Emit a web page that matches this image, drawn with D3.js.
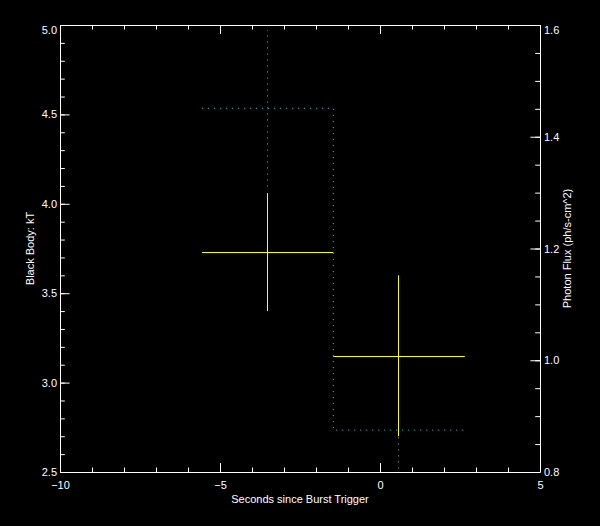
<!DOCTYPE html>
<html lang="en">

<head>
	<meta charset="utf-8">
	<title>Burst spectral fit</title>
	<style>
		body {
			margin: 0;
			background: #000;
		}

		svg {
			display: block;
			background: #000;
			font-family: "Liberation Sans", sans-serif;
		}

		.axis path,
		.axis line {
			stroke: #fff;
		}

		.axis text {
			fill: #fff;
			font-size: 11px;
		}

		.title {
			fill: #fff;
			font-size: 11px;
		}
	</style>
</head>

<body>
	<svg></svg>

	<script src="https://d3js.org/d3.v7.min.js"></script>
	<script>
		// time bins (seconds since trigger)
		var binStart = [-5.56, -1.46];
		var binEnd = [-1.46, 2.65];
		var binMid = [-3.52, 0.57];

		// black body kT with error range
		var kT = [3.73, 3.15];
		var kTLow = [3.40, 2.70];
		var kTHigh = [4.06, 3.60];

		// photon flux with symmetric error
		var flux = [1.451, 0.875];
		var fluxErr = [0.14, 0.09];

		var xTicks = [-10, -5, 0, 5];
		var kTTicks = [2.5, 3.0, 3.5, 4.0, 4.5, 5.0];
		var fluxTicks = [0.8, 1.0, 1.2, 1.4, 1.6];

		var width = 600,
			height = 526;

		var margin = { top: 25, right: 60, bottom: 54, left: 60 };

		var svg = d3.select("svg")
			.attr("width", width)
			.attr("height", height);

		var x = d3.scaleLinear()
			.domain([-10, 5])
			.range([margin.left, width - margin.right]);

		var yL = d3.scaleLinear()
			.domain([2.5, 5])
			.range([height - margin.bottom, margin.top]);

		var yR = d3.scaleLinear()
			.domain([0.8, 1.6])
			.range([height - margin.bottom, margin.top]);

		var plotW = x.range()[1] - x.range()[0];
		var plotH = yL.range()[0] - yL.range()[1];

		// IDL style tick lengths: 2% of the plot size, minors half
		var xMajor = 0.02 * plotH,
			yMajor = 0.02 * plotW;

		function minors(scale, step) {
			var d = scale.domain();
			return d3.range(d[0], d[1] + step / 2, step);
		}

		var fmt1 = d3.format(".1f");

		// bottom axis
		svg.append("g")
			.attr("class", "axis")
			.attr("transform", "translate(0," + yL.range()[0] + ")")
			.call(d3.axisBottom(x).tickValues(minors(x, 1)).tickSize(-xMajor / 2).tickFormat(""))
			.call(function(g) { g.select(".domain").remove(); });

		svg.append("g")
			.attr("class", "axis")
			.attr("transform", "translate(0," + yL.range()[0] + ")")
			.call(d3.axisBottom(x).tickValues(xTicks).tickSize(-xMajor).tickSizeOuter(0).tickPadding(9).tickFormat(d3.format("d")));

		// top axis, no labels
		svg.append("g")
			.attr("class", "axis")
			.attr("transform", "translate(0," + yL.range()[1] + ")")
			.call(d3.axisTop(x).tickValues(minors(x, 1)).tickSize(-xMajor / 2).tickFormat(""))
			.call(function(g) { g.select(".domain").remove(); });

		svg.append("g")
			.attr("class", "axis")
			.attr("transform", "translate(0," + yL.range()[1] + ")")
			.call(d3.axisTop(x).tickValues(xTicks).tickSize(-xMajor).tickSizeOuter(0).tickFormat(""));

		// left axis (kT)
		svg.append("g")
			.attr("class", "axis")
			.attr("transform", "translate(" + x.range()[0] + ",0)")
			.call(d3.axisLeft(yL).tickValues(minors(yL, 0.1)).tickSize(-yMajor / 2).tickFormat(""))
			.call(function(g) { g.select(".domain").remove(); });

		var left = svg.append("g")
			.attr("class", "axis")
			.attr("transform", "translate(" + x.range()[0] + ",0)")
			.call(d3.axisLeft(yL).tickValues(kTTicks).tickSize(-yMajor).tickSizeOuter(0).tickPadding(3).tickFormat(fmt1));

		left.selectAll(".tick text")
			.attr("dy", function(d) { return d == 5 ? "0.75em" : "0.32em"; });

		// right axis (flux)
		svg.append("g")
			.attr("class", "axis")
			.attr("transform", "translate(" + x.range()[1] + ",0)")
			.call(d3.axisRight(yR).tickValues(minors(yR, 0.05)).tickSize(-yMajor / 2).tickFormat(""))
			.call(function(g) { g.select(".domain").remove(); });

		var right = svg.append("g")
			.attr("class", "axis")
			.attr("transform", "translate(" + x.range()[1] + ",0)")
			.call(d3.axisRight(yR).tickValues(fluxTicks).tickSize(-yMajor).tickSizeOuter(0).tickPadding(4).tickFormat(fmt1));

		right.selectAll(".tick text")
			.attr("dy", function(d) { return d == 1.6 ? "0.75em" : "0.32em"; });

		// axis titles
		svg.append("text")
			.attr("class", "title")
			.attr("x", (x.range()[0] + x.range()[1]) / 2)
			.attr("y", 503)
			.attr("text-anchor", "middle")
			.text("Seconds since Burst Trigger");

		var midY = (yL.range()[0] + yL.range()[1]) / 2;

		svg.append("text")
			.attr("class", "title")
			.attr("transform", "translate(34," + midY + ") rotate(-90)")
			.attr("text-anchor", "middle")
			.text("Black Body: kT");

		svg.append("text")
			.attr("class", "title")
			.attr("transform", "translate(571," + midY + ") rotate(-90)")
			.attr("text-anchor", "middle")
			.text("Photon Flux (ph/s-cm^2)");

		// clip to the plot box
		svg.append("clipPath")
			.attr("id", "plot")
			.append("rect")
			.attr("x", x.range()[0])
			.attr("y", yL.range()[1])
			.attr("width", plotW)
			.attr("height", plotH);

		var plot = svg.append("g").attr("clip-path", "url(#plot)");

		// flux: dotted cyan histogram + error bars
		var steps = binStart.map(function(s, i) { return [s, flux[i]]; });
		steps.push([binEnd[binEnd.length - 1], flux[flux.length - 1]]);

		var stepLine = d3.line()
			.x(function(d) { return x(d[0]); })
			.y(function(d) { return yR(d[1]); })
			.curve(d3.curveStepAfter);

		plot.append("path")
			.datum(steps)
			.attr("d", stepLine)
			.attr("fill", "none")
			.attr("stroke", "#1fd6d6")
			.attr("stroke-width", 1)
			.attr("stroke-dasharray", "1 5");

		plot.selectAll("line.fluxerr")
			.data(flux)
			.enter().append("line")
			.attr("class", "fluxerr")
			.attr("x1", function(d, i) { return Math.round(x(binMid[i])) + 0.5; })
			.attr("x2", function(d, i) { return Math.round(x(binMid[i])) + 0.5; })
			.attr("y1", function(d, i) { return yR(d - fluxErr[i]); })
			.attr("y2", function(d, i) { return yR(d + fluxErr[i]); })
			.attr("stroke", "#1fd6d6")
			.attr("stroke-dasharray", "1 5");

		// kT: yellow crosses
		plot.selectAll("line.kth")
			.data(kT)
			.enter().append("line")
			.attr("class", "kth")
			.attr("x1", function(d, i) { return x(binStart[i]); })
			.attr("x2", function(d, i) { return x(binEnd[i]); })
			.attr("y1", function(d) { return Math.round(yL(d)) + 0.5; })
			.attr("y2", function(d) { return Math.round(yL(d)) + 0.5; })
			.attr("stroke", "#ffff00");

		plot.selectAll("line.ktv")
			.data(kT)
			.enter().append("line")
			.attr("class", "ktv")
			.attr("x1", function(d, i) { return Math.round(x(binMid[i])) + 0.5; })
			.attr("x2", function(d, i) { return Math.round(x(binMid[i])) + 0.5; })
			.attr("y1", function(d, i) { return yL(kTLow[i]); })
			.attr("y2", function(d, i) { return yL(kTHigh[i]); })
			.attr("stroke", "#ffff00");
	</script>
</body>

</html>
